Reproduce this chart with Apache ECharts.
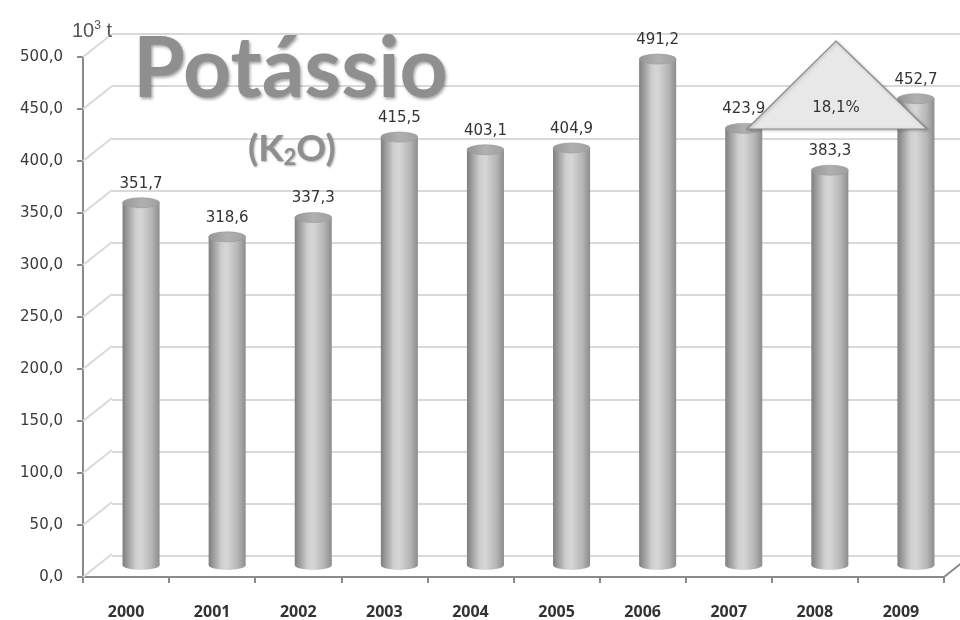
<!DOCTYPE html>
<html><head><meta charset="utf-8">
<script src="https://cdn.jsdelivr.net/npm/echarts@6/dist/echarts.min.js"></script>
<style>html,body{margin:0;padding:0;background:#fff}#c{width:960px;height:620px}</style>
</head><body><div id="c"></div>
<script>
const years = ['2000','2001','2002','2003','2004','2005','2006','2007','2008','2009'];
const values = [351.7, 318.6, 337.3, 415.5, 403.1, 404.9, 491.2, 423.9, 383.3, 452.7];
const yTicks = [0, 50, 100, 150, 200, 250, 300, 350, 400, 450, 500];
const growth = (values[9] / values[8] - 1) * 100;

const fmt = v => v.toFixed(1).replace('.', ',');
const DX = 29, DY = -23;

const chart = echarts.init(document.getElementById('c'));
const yBase = {type:'value', min:0, max:500, interval:50};
const shadowTxt = {textShadowColor:'rgba(0,0,0,0.3)', textShadowBlur:2, textShadowOffsetX:1, textShadowOffsetY:1};

chart.setOption({
  animation:false,
  backgroundColor:'#fff',
  title:[
    {text:'Potássio', left:128, top:23,
     textStyle:{fontFamily:'Lato', fontWeight:'bold', fontSize:84, color:'#8f8f8f',
       textShadowColor:'rgba(0,0,0,0.35)', textShadowBlur:3, textShadowOffsetX:1.5, textShadowOffsetY:1.5}},
    {text:'{a|(K}{b|2}{a|O)}', left:243, top:124,
     textStyle:{rich:{
       a:Object.assign({fontFamily:'Lato', fontWeight:'bold', fontSize:37, color:'#8f8f8f'}, shadowTxt),
       b:Object.assign({fontFamily:'Lato', fontWeight:'bold', fontSize:22, color:'#8f8f8f', padding:[18,0,0,0]}, shadowTxt)}}},
    {text:'{a|10}{b|3}{a| t}', left:67, top:15,
     textStyle:{fontWeight:'normal', rich:{
       a:{fontFamily:'Liberation Sans', fontWeight:'normal', fontSize:20, color:'#555'},
       b:{fontFamily:'Liberation Sans', fontWeight:'normal', fontSize:12, color:'#555', padding:[0,0,10,0]}}}}
  ],
  grid:[
    {left:112, right:-13, top:34, bottom:64},   // back wall
    {left:98, right:1, top:50, bottom:55},      // middle (bars)
    {left:83, right:16, top:57, bottom:42}      // front axis
  ],
  xAxis:[
    {gridIndex:0, type:'category', data:years, show:false},
    {gridIndex:1, type:'category', data:years, show:false},
    {gridIndex:2, type:'category', data:years,
     axisLine:{lineStyle:{color:'#8a8a8a', width:2}},
     axisTick:{show:true, length:6, lineStyle:{color:'#8a8a8a', width:2}},
     axisLabel:{margin:27, fontFamily:'Open Sans', fontWeight:'bold', fontSize:16, color:'#333'}}
  ],
  yAxis:[
    Object.assign({gridIndex:0, axisLine:{show:false}, axisTick:{show:false}, axisLabel:{show:false},
      splitLine:{lineStyle:{color:'#d9d9d9', width:2}}}, yBase),
    Object.assign({gridIndex:1, show:false, splitLine:{show:false}}, yBase),
    Object.assign({gridIndex:2, splitLine:{show:false},
      axisLine:{show:true, lineStyle:{color:'#8a8a8a', width:2}},
      axisTick:{show:true, length:6, lineStyle:{color:'#8a8a8a', width:2}},
      axisLabel:{margin:20, fontFamily:'DejaVu Sans', fontSize:15, color:'#3a3a3a', formatter:v=>fmt(v)}}, yBase)
  ],
  series:[
    {
      type:'custom', xAxisIndex:2, yAxisIndex:2, silent:true,
      data: yTicks.map(v => [0, v]),
      renderItem:(params, api) => {
        const cs = params.coordSys;
        const y = api.coord([0, api.value(1)])[1];
        const children = [{type:'line', shape:{x1:cs.x, y1:y, x2:cs.x+DX, y2:y+DY},
          style:{stroke:'#d9d9d9', lineWidth:2}}];
        if (api.value(1) === 0) {
          children.push({type:'line', shape:{x1:cs.x+cs.width, y1:y, x2:cs.x+cs.width+DX, y2:y+DY},
            style:{stroke:'#8a8a8a', lineWidth:2}});
        }
        return {type:'group', children};
      }
    },
    {
      type:'custom', xAxisIndex:1, yAxisIndex:1, silent:true,
      data: values.map((v, i) => [i, v]),
      renderItem:(params, api) => {
        const i = api.value(0), v = api.value(1);
        const top = api.coord([i, v]);
        const base = api.coord([i, 0]);
        const w = api.size([1, 0])[0] * 0.43;
        const rx = w / 2, ry = 5;
        const x0 = top[0] - rx;
        const bodyGrad = new echarts.graphic.LinearGradient(0, 0, 1, 0, [
          {offset:0, color:'#7e7e7e'},
          {offset:0.35, color:'#cfcfcf'},
          {offset:0.5, color:'#d6d6d6'},
          {offset:0.8, color:'#b4b4b4'},
          {offset:1, color:'#8c8c8c'}
        ]);
        const topGrad = new echarts.graphic.LinearGradient(0, 0, 1, 0, [
          {offset:0, color:'#959595'},
          {offset:0.5, color:'#b0b0b0'},
          {offset:1, color:'#a0a0a0'}
        ]);
        return {type:'group', children:[
          {type:'circle', x:base[0], y:base[1], scaleY:ry/rx, shape:{cx:0, cy:0, r:rx}, style:{fill:bodyGrad}},
          {type:'rect', shape:{x:x0, y:top[1], width:w, height:base[1]-top[1]}, style:{fill:bodyGrad}},
          {type:'circle', x:top[0], y:top[1], scaleY:ry/rx, shape:{cx:0, cy:0, r:rx},
            style:{fill:topGrad, stroke:'#999', lineWidth:1}},
          {type:'text', x:top[0], y:top[1]-19, style:{text:fmt(v), fontFamily:'DejaVu Sans', fontSize:15,
            fill:'#333', align:'center', verticalAlign:'middle'}}
        ]};
      }
    }
  ],
  graphic:[
    {type:'polygon', shape:{points:[[747,129],[927,129],[836,41]]},
     style:{fill:'#e8e8e8', stroke:'#8a8a8a', lineWidth:1.2, shadowColor:'rgba(0,0,0,0.25)', shadowBlur:3, shadowOffsetX:1, shadowOffsetY:1}, z:10},
    {type:'text', x:836, y:108, z:11,
     style:{text:growth.toFixed(1).replace('.', ',') + '%', fontFamily:'DejaVu Sans', fontSize:15, fill:'#333', align:'center', verticalAlign:'middle'}}
  ]
});
</script></body></html>
